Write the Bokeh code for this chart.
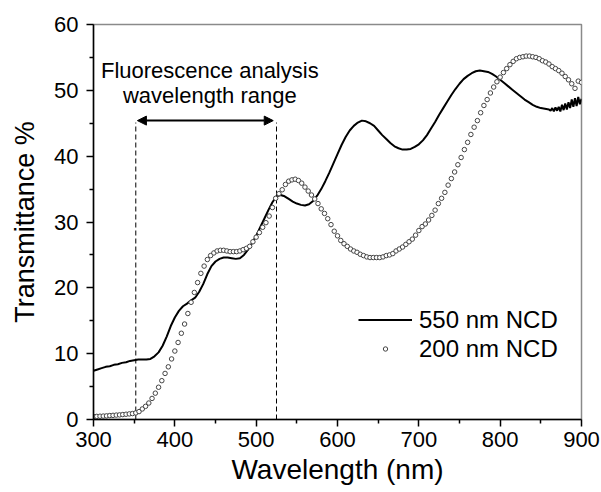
from bokeh.plotting import figure
from bokeh.models import Arrow, NormalHead, Legend, LegendItem, FixedTicker
from bokeh.core.properties import value
from bokeh.embed import file_html
from bokeh.resources import INLINE

# ---- data ----
x_550 = list(range(300, 861, 5)) + list(range(862, 901, 2))
t_550 = [7.4, 7.6, 7.8, 8.0, 8.1, 8.3, 8.4, 8.6, 8.7, 8.9,
         9.0, 9.1, 9.1, 9.1, 9.2, 9.6, 10.2, 11.2, 12.6, 14.2,
         15.5, 16.5, 17.2, 17.6, 18.1, 18.5, 19.4, 20.6, 22.1, 23.3,
         24.0, 24.4, 24.6, 24.6, 24.5, 24.4, 24.5, 25.0, 25.8, 26.8,
         27.9, 29.2, 30.5, 31.8, 33.0, 33.9, 34.1, 33.9, 33.5, 33.1,
         32.8, 32.6, 32.5, 32.7, 33.2, 34.0, 35.0, 36.2, 37.5, 38.9,
         40.3, 41.7, 42.9, 43.9, 44.6, 45.1, 45.4, 45.3, 45.0, 44.6,
         43.9, 43.2, 42.6, 42.0, 41.5, 41.2, 41.0, 41.0, 41.1, 41.4,
         41.8, 42.4, 43.2, 44.2, 45.2, 46.3, 47.3, 48.3, 49.3, 50.2,
         51.0, 51.7, 52.2, 52.6, 52.9, 53.0, 52.9, 52.8, 52.5, 52.1,
         51.6, 51.1, 50.6, 50.1, 49.6, 49.1, 48.6, 48.2, 47.8, 47.5,
         47.3, 47.2, 47.1,
         46.9, 47.3, 46.8, 47.4, 46.9, 47.5, 46.8, 47.8, 47.0, 48.0,
         47.1, 48.2, 47.3, 48.6, 47.5, 48.8, 47.6, 49.0, 47.9, 48.7]

x_200 = list(range(300, 901, 4))
t_200 = [0.45, 0.47, 0.5, 0.52, 0.55, 0.6, 0.63, 0.67, 0.7, 0.75,
         0.8, 0.85, 0.9, 1.0, 1.2, 1.6, 2.0, 2.5, 3.2, 4.0,
         4.9, 5.9, 7.0, 8.0, 9.2, 10.4, 11.7, 13.1, 14.5, 16.1,
         17.8, 19.3, 20.8, 22.2, 23.3, 24.3, 24.9, 25.3, 25.6, 25.7,
         25.7, 25.6, 25.5, 25.5, 25.5, 25.6, 25.8, 26.0, 26.3, 27.0,
         27.7, 28.4, 29.2, 29.9, 30.9, 32.2, 33.6, 34.3, 34.9, 35.7,
         36.2, 36.4, 36.5, 36.3, 35.9, 35.3, 34.7, 34.1, 33.5, 32.8,
         32.0, 31.3, 30.5, 29.6, 28.6, 27.9, 27.2, 26.7, 26.3, 25.9,
         25.6, 25.4, 25.1, 24.9, 24.7, 24.6, 24.6, 24.6, 24.6, 24.7,
         24.9, 25.0, 25.2, 25.6, 25.9, 26.2, 26.6, 27.0, 27.4, 28.0,
         28.7, 29.3, 29.7, 30.3, 31.0, 31.8, 32.8, 33.6, 34.5, 35.6,
         36.6, 37.6, 38.7, 39.8, 41.0, 42.1, 43.3, 44.4, 45.4, 46.6,
         47.7, 48.6, 49.6, 50.5, 51.3, 52.0, 52.7, 53.3, 53.9, 54.4,
         54.8, 55.0, 55.1, 55.2, 55.2, 55.1, 55.0, 54.8, 54.5, 54.3,
         54.0, 53.6, 53.3, 53.0, 52.6, 52.1, 51.6, 51.0, 50.3, 51.4,
         51.2]

range_bounds = [352, 525]      # dashed lines (nm)
range_top = 45.1
arrow_x = [354, 521]
arrow_y = 45.4
note_lines = ["Fluorescence analysis", "wavelength range"]
note_x = [443, 443]
note_y = [53.0, 49.2]
x_ticks = [300, 400, 500, 600, 700, 800, 900]
x_minor = [350, 450, 550, 650, 750, 850]
y_ticks = [0, 10, 20, 30, 40, 50, 60]
y_minor = [5, 15, 25, 35, 45, 55]

FONT = "Liberation Sans"

p = figure(width=601, height=492, x_range=(300, 900), y_range=(0, 60),
           output_backend="svg", toolbar_location=None,
           min_border_left=93, min_border_right=20,
           min_border_top=24, min_border_bottom=73)
p.grid.visible = False
p.outline_line_color = "#8a8a8a"
p.outline_line_width = 1.5
p.background_fill_color = "white"
p.border_fill_color = "white"

for ax in (p.xaxis[0], p.yaxis[0]):
    ax.axis_line_color = "black"
    ax.axis_line_width = 1.5
    ax.major_tick_line_color = "black"
    ax.major_tick_line_width = 1.5
    ax.minor_tick_line_color = "black"
    ax.minor_tick_line_width = 1.5
    ax.major_tick_in = 0
    ax.major_tick_out = 7
    ax.minor_tick_in = 0
    ax.minor_tick_out = 4
    ax.major_label_text_font = FONT
    ax.major_label_text_font_size = "22px"
    ax.major_label_text_color = "black"
    ax.axis_label_text_font = FONT
    ax.axis_label_text_font_style = "normal"
    ax.axis_label_text_color = "black"

p.xaxis.ticker = FixedTicker(ticks=x_ticks, minor_ticks=x_minor)
p.yaxis.ticker = FixedTicker(ticks=y_ticks, minor_ticks=y_minor)
p.xaxis.major_label_standoff = 5
p.yaxis.major_label_standoff = 8

p.yaxis.axis_label = "Transmittance %"
p.yaxis.axis_label_text_font_size = "27px"
p.yaxis.axis_label_standoff = 11

p.xaxis.axis_label = "Wavelength (nm)"
p.xaxis.axis_label_text_font_size = "28px"
p.xaxis.axis_label_standoff = 4

# dashed range markers
p.segment(x0=range_bounds, y0=[0, 0], x1=range_bounds, y1=[range_top, range_top],
          line_color="black", line_width=1, line_dash="5 3")

p.add_layout(Arrow(start=NormalHead(size=9, fill_color="black", line_color="black"),
                   end=NormalHead(size=9, fill_color="black", line_color="black"),
                   x_start=arrow_x[0], x_end=arrow_x[1], y_start=arrow_y, y_end=arrow_y,
                   line_width=2, line_color="black"))

p.text(x=note_x, y=note_y, text=note_lines, text_align="center", text_baseline="middle",
       text_font=value(FONT), text_font_size="22px", text_color="black")

r1 = p.line(x_550, t_550, line_color="black", line_width=2)
r2 = p.scatter(x_200, t_200, marker="circle", size=4.5, fill_color="white",
               line_color="#444444", line_width=1)

legend = Legend(items=[LegendItem(label="550 nm NCD", renderers=[r1]),
                       LegendItem(label="200 nm NCD", renderers=[r2])],
                location=(265, 56), glyph_width=54, glyph_height=11, label_height=29,
                spacing=0, padding=0, margin=0, border_line_color=None,
                background_fill_alpha=0, label_standoff=7,
                label_text_font=FONT, label_text_font_size="24px",
                label_text_color="black")
p.add_layout(legend)

open("out.html", "w").write(file_html(p, INLINE))
